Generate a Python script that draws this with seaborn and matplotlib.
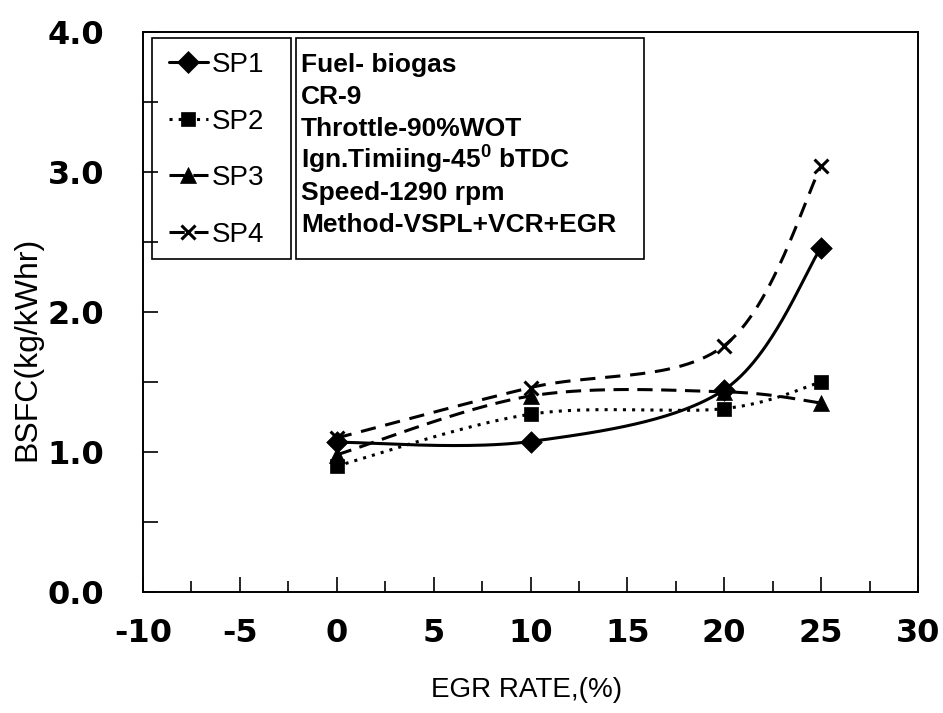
import numpy as np
import pandas as pd
import matplotlib
matplotlib.use("Agg")
import matplotlib.pyplot as plt
from matplotlib.lines import Line2D
from matplotlib.patches import Rectangle
import seaborn as sns

# EGR rate (%) and BSFC (kg/kWhr) for the four spark-plug locations
egr_rate = [0, 10, 20, 25]
sp1 = [1.07, 1.075, 1.445, 2.46]
sp2 = [0.90, 1.27, 1.31, 1.50]
sp3 = [0.98, 1.40, 1.43, 1.35]
sp4 = [1.10, 1.46, 1.76, 3.04]
series_names = ["SP1", "SP2", "SP3", "SP4"]

x_ticks = [-10, -5, 0, 5, 10, 15, 20, 25, 30]
y_ticks = [0.0, 1.0, 2.0, 3.0, 4.0]
info_lines = ["Fuel- biogas", "CR-9", "Throttle-90%WOT",
              r"Ign.Timiing-45$^{\mathbf{0}}$ bTDC", "Speed-1290 rpm",
              "Method-VSPL+VCR+EGR"]

sns.set_theme(style="white")
plt.rcParams["font.family"] = ["Liberation Sans", "DejaVu Sans"]
plt.rcParams["mathtext.fontset"] = "custom"
plt.rcParams["mathtext.bf"] = "Liberation Sans:bold"
plt.rcParams["mathtext.rm"] = "Liberation Sans"
for key in ["text.color", "axes.labelcolor", "xtick.color", "ytick.color",
            "axes.edgecolor"]:
    plt.rcParams[key] = "black"

W, H = 943, 713

df = pd.DataFrame({
    "egr": egr_rate * 4,
    "bsfc": sp1 + sp2 + sp3 + sp4,
    "series": [n for n in series_names for _ in egr_rate],
})


def smooth_curve(xs, ys, n=60):
    """Cubic Bezier smoothing through every point (Catmull-Rom style)."""
    pts = np.column_stack([xs, ys]).astype(float)
    ext = np.vstack([pts[0], pts, pts[-1]])
    out = []
    t = np.linspace(0, 1, n)[:, None]
    for i in range(len(pts) - 1):
        p0, p1, p2, p3 = ext[i], ext[i + 1], ext[i + 2], ext[i + 3]
        c1 = p1 + (p2 - p0) / 6.0
        c2 = p2 - (p3 - p1) / 6.0
        seg = ((1 - t) ** 3) * p1 + 3 * ((1 - t) ** 2) * t * c1 \
            + 3 * (1 - t) * t ** 2 * c2 + t ** 3 * p2
        out.append(seg if i == 0 else seg[1:])
    return np.vstack(out)


LW = 2.2
styles = {
    "SP1": dict(ls="-", marker="D", ms=11),
    "SP2": dict(ls=(0, (1, 2.0)), marker="s", ms=10.5),
    "SP3": dict(ls=(0, (5, 2.8)), marker="^", ms=11.5),
    "SP4": dict(ls=(0, (5, 3.2)), marker="x", ms=10),
}

fig = plt.figure(figsize=(W / 100, H / 100), dpi=100)
ax = fig.add_axes([143 / W, 1 - 592 / H, (918 - 143) / W, (592 - 32) / H])

for name in series_names:
    sub = df[df["series"] == name]
    curve = smooth_curve(sub["egr"].values, sub["bsfc"].values)
    cdf = pd.DataFrame({"egr": curve[:, 0], "bsfc": curve[:, 1]})
    sns.lineplot(data=cdf, x="egr", y="bsfc", sort=False, estimator=None,
                 color="black", lw=LW, linestyle=styles[name]["ls"], ax=ax)
    sns.scatterplot(data=sub, x="egr", y="bsfc", marker=styles[name]["marker"],
                    s=styles[name]["ms"] ** 2, color="black",
                    edgecolor="black", linewidth=2.2 if name == "SP4" else 0.5,
                    ax=ax, zorder=5)

ax.set_xlim(-10, 30)
ax.set_ylim(0, 4.0)
ax.set_xticks(x_ticks)
ax.set_xticklabels([str(v) for v in x_ticks])
ax.set_xticks(np.arange(-7.5, 30, 5), minor=True)
ax.set_yticks(y_ticks)
ax.set_yticklabels([f"{v:.1f}" for v in y_ticks])
ax.set_yticks(np.arange(0.5, 4.0, 1.0), minor=True)
ax.tick_params(axis="both", which="both", direction="in", color="black",
               labelcolor="black", width=1.2, left=True, bottom=True)
ax.tick_params(axis="x", which="major", length=11, pad=19)
ax.tick_params(axis="x", which="minor", length=8)
ax.tick_params(axis="y", which="both", length=11, pad=28)
for lab in ax.get_xticklabels() + ax.get_yticklabels():
    lab.set_fontfamily("DejaVu Sans")
    lab.set_fontweight("bold")
    lab.set_fontsize(23)
for sp in ax.spines.values():
    sp.set_color("black")
    sp.set_linewidth(1.4)

ax.set_xlabel("")
ax.set_ylabel("")
fig.text(527 / W, 1 - 690 / H, "EGR RATE,(%)", ha="center", va="center",
         fontsize=20)
fig.text(27 / W, 1 - 349 / H, "BSFC(kg/kWhr)", ha="center", va="center",
         rotation=90, fontsize=23)

# series key
handles = [Line2D([], [], color="black", lw=LW, linestyle=styles[n]["ls"],
                  marker=styles[n]["marker"], markersize=styles[n]["ms"],
                  markeredgewidth=2.2 if n == "SP4" else 0.5)
           for n in series_names]
leg = ax.legend(handles, series_names, loc="upper left",
                bbox_to_anchor=(169 / W, 1 - 52 / H),
                bbox_transform=fig.transFigure, fontsize=20, frameon=False,
                handlelength=1.4, handletextpad=0.15, labelspacing=1.1,
                borderpad=0, borderaxespad=0)
fig.add_artist(Rectangle((152 / W, 1 - 259 / H), (291 - 152) / W, (259 - 38) / H,
                         transform=fig.transFigure, fill=False,
                         edgecolor="black", lw=1.2, zorder=6))

# operating conditions box
fig.add_artist(Rectangle((296 / W, 1 - 259 / H), (644 - 296) / W, (259 - 38) / H,
                         transform=fig.transFigure, facecolor="white",
                         edgecolor="black", lw=1.2, zorder=6))
for k, line in enumerate(info_lines):
    fig.text(301 / W, 1 - (72 + 32 * k) / H, line, ha="left", va="baseline",
             fontsize=19, fontweight="bold", family="Liberation Sans", zorder=7)

fig.savefig("out.png", dpi=100)
